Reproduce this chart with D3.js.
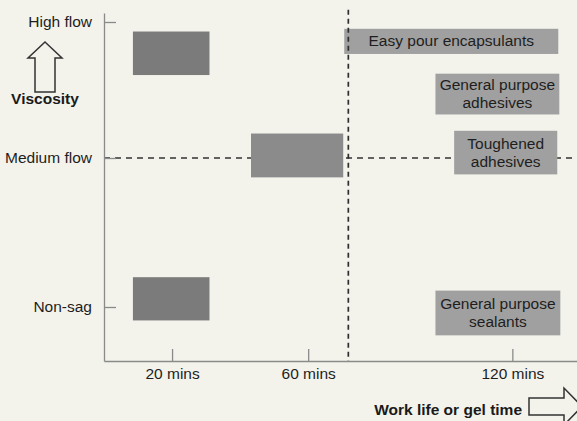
<!DOCTYPE html>
<html>
<head>
<meta charset="utf-8">
<script src="https://cdn.jsdelivr.net/npm/d3@7"></script>
<style>
  html, body { margin: 0; padding: 0; background: #f3f3ec; }
  svg { display: block; }
  text { font-family: "Liberation Sans", Arial, Helvetica, sans-serif; }
</style>
</head>
<body>
<svg id="chart" width="577" height="421"></svg>
<script>
// ---- data ----
// viscosity categories (y), numeric level of each
const viscosityLabels = ["Non-sag", "Medium flow", "High flow"];
const viscosityLevels = [0, 1, 2];
// work-life ticks (minutes)
const timeTicks = [20, 60, 120];
const timeTickLabels = ["20 mins", "60 mins", "120 mins"];

// unlabeled curing-window blocks
const blockStart = [8.5, 43.2, 8.5];
const blockEnd   = [31.0, 70.3, 31.0];
const blockLow   = [1.61, 0.87, -0.09];
const blockHigh  = [1.93, 1.18, 0.20];

// labeled product boxes
const productNames = [["Easy pour encapsulants"], ["General purpose", "adhesives"], ["Toughened", "adhesives"], ["General purpose", "sealants"]];
const productStart = [70.6, 97.4, 102.9, 97.4];
const productEnd   = [133.5, 133.8, 133.2, 134.1];
const productLow   = [1.765, 1.32, 0.89, -0.19];
const productHigh  = [1.95, 1.62, 1.20, 0.11];

// reference lines
const medianViscosity = 1;
const cutoffTime = 71.8;

// ---- layout ----
const FS = "15.5px";
const svg = d3.select("#chart");
const x = d3.scaleLinear().domain([0, 139]).range([104, 577]);
const y = d3.scaleLinear().domain([-0.362, 0, 1, 2, 2.066]).range([361, 307, 158, 22, 13]);

const blocks = blockStart.map((s, i) => ({ s, e: blockEnd[i], lo: blockLow[i], hi: blockHigh[i], i }));
const products = productStart.map((s, i) => ({ s, e: productEnd[i], lo: productLow[i], hi: productHigh[i], name: productNames[i] }));
const blockFill = ["#7b7b7b", "#8b8b8b", "#7b7b7b"];

// horizontal dashed line (behind boxes)
svg.append("line")
  .attr("x1", x(0)).attr("x2", x(139))
  .attr("y1", y(medianViscosity)).attr("y2", y(medianViscosity))
  .attr("stroke", "#333").attr("stroke-width", 1.5)
  .attr("stroke-dasharray", "6,5");

// axes
const yAxis = d3.axisLeft(y).tickValues(viscosityLevels)
  .tickFormat((d, i) => viscosityLabels[i])
  .tickSizeInner(-12).tickSizeOuter(0).tickPadding(12);
const xAxis = d3.axisBottom(x).tickValues(timeTicks)
  .tickFormat((d, i) => timeTickLabels[i])
  .tickSizeInner(-12).tickSizeOuter(0).tickPadding(7);

const gy = svg.append("g").attr("transform", `translate(${x(0)},0)`).call(yAxis);
const gx = svg.append("g").attr("transform", `translate(0,${y(-0.362)})`).call(xAxis);
[gy, gx].forEach(g => {
  g.select(".domain").attr("stroke", "#8a8a8a").attr("stroke-width", 1.3);
  g.selectAll(".tick line").attr("stroke", "#8a8a8a").attr("stroke-width", 1.3);
  g.selectAll(".tick text").attr("fill", "#1e1e1e").attr("font-size", FS)
    .attr("font-family", "'Liberation Sans', Arial, sans-serif");
});

// curing blocks
svg.append("g").selectAll("rect").data(blocks).join("rect")
  .attr("x", d => x(d.s)).attr("width", d => x(d.e) - x(d.s))
  .attr("y", d => y(d.hi)).attr("height", d => y(d.lo) - y(d.hi))
  .attr("fill", d => blockFill[d.i]);

// product boxes
const pg = svg.append("g").selectAll("g").data(products).join("g");
pg.append("rect")
  .attr("x", d => x(d.s)).attr("width", d => x(d.e) - x(d.s))
  .attr("y", d => y(d.hi)).attr("height", d => y(d.lo) - y(d.hi))
  .attr("fill", "#a0a0a0");
pg.each(function (d) {
  const cx = (x(d.s) + x(d.e)) / 2;
  const cy = (y(d.hi) + y(d.lo)) / 2;
  const n = d.name.length;
  d3.select(this).selectAll("text").data(d.name).join("text")
    .attr("x", cx)
    .attr("y", (t, j) => cy + 5 + (j - (n - 1) / 2) * 18)
    .attr("text-anchor", "middle")
    .attr("font-size", FS)
    .attr("fill", "#1e1e1e")
    .text(t => t);
});

// vertical dashed cutoff line
svg.append("line")
  .attr("x1", x(cutoffTime)).attr("x2", x(cutoffTime))
  .attr("y1", y(2.09)).attr("y2", y(-0.362))
  .attr("stroke", "#2e2e2e").attr("stroke-width", 1.7)
  .attr("stroke-dasharray", "5,4");

// axis titles with outline arrows
svg.append("path")
  .attr("d", "M45,42 L62,58 L55,58 L55,92 L35,92 L35,58 L28,58 Z")
  .attr("fill", "none").attr("stroke", "#333").attr("stroke-width", 1.5);
svg.append("text").attr("x", 45).attr("y", 104).attr("text-anchor", "middle")
  .attr("font-size", FS).attr("font-weight", "bold").attr("fill", "#1a1a1a")
  .text("Viscosity");

svg.append("text").attr("x", 522).attr("y", 415).attr("text-anchor", "end")
  .attr("font-size", FS).attr("font-weight", "bold").attr("fill", "#1a1a1a")
  .text("Work life or gel time");
svg.append("path")
  .attr("d", "M529,398 L564,398 L564,388 L582,406.5 L564,425 L564,415 L529,415 Z")
  .attr("fill", "none").attr("stroke", "#333").attr("stroke-width", 1.5);
</script>
</body>
</html>
